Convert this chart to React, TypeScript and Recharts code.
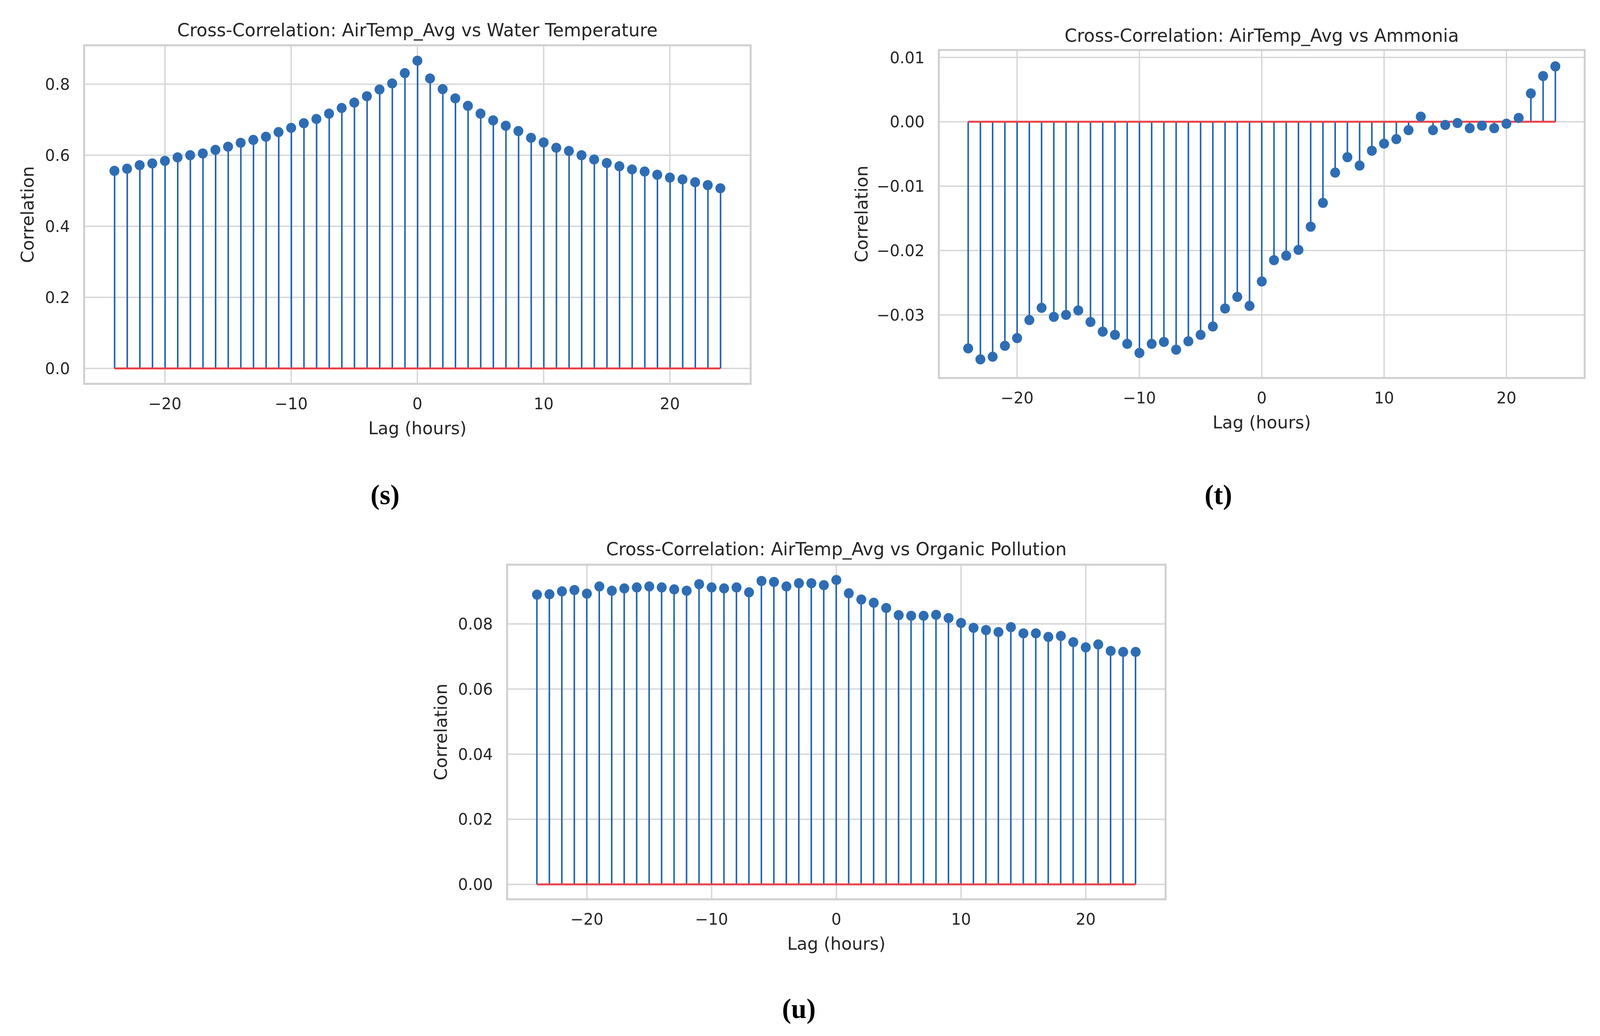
import React from 'react';
import { ComposedChart, Bar, Line, XAxis, YAxis, CartesianGrid, ReferenceLine, ReferenceArea } from 'recharts';

const LAGS = [
    -24, -23, -22, -21, -20, -19, -18, -17, -16, -15, -14, -13, -12, -11, -10, -9, -8, -7, -6, -5, -4, -3, -2, -1,
    0, 1, 2, 3, 4, 5, 6, 7, 8, 9, 10, 11, 12, 13, 14, 15, 16, 17, 18, 19, 20, 21, 22, 23, 24,
];

const WATER_TEMP = [
    0.556, 0.562, 0.572, 0.577, 0.584, 0.594, 0.6, 0.605, 0.615, 0.624, 0.635, 0.643, 0.652, 0.665, 0.677, 0.69,
    0.702, 0.717, 0.733, 0.748, 0.766, 0.785, 0.802, 0.831, 0.866,
    0.816, 0.786, 0.76, 0.739, 0.717, 0.698, 0.683, 0.668, 0.649, 0.636, 0.621, 0.612, 0.6, 0.588, 0.578, 0.569,
    0.56, 0.554, 0.545, 0.537, 0.532, 0.524, 0.516, 0.507,
];

const AMMONIA = [
    -0.0352, -0.0369, -0.0365, -0.0348, -0.0336, -0.0308, -0.0289, -0.0303, -0.03, -0.0293, -0.0311, -0.0326,
    -0.0331, -0.0345, -0.0359, -0.0345, -0.0342, -0.0354, -0.0341, -0.0331, -0.0318, -0.029, -0.0272, -0.0286,
    -0.0248,
    -0.0215, -0.0208, -0.0199, -0.0163, -0.0126, -0.0079, -0.0055, -0.0068, -0.0045, -0.0034, -0.0027, -0.0013,
    0.0008, -0.0013, -0.0005, -0.0002, -0.001, -0.0006, -0.001, -0.0003, 0.0006, 0.0044, 0.0071, 0.0086,
];

const ORGANIC = [
    0.089, 0.0891, 0.09, 0.0904, 0.0893, 0.0915, 0.0902, 0.0909, 0.0912, 0.0915, 0.0912, 0.0906, 0.0902, 0.0922,
    0.0912, 0.0909, 0.0912, 0.0897, 0.0932, 0.0929, 0.0915, 0.0925, 0.0925, 0.0919, 0.0935,
    0.0894, 0.0875, 0.0865, 0.0849, 0.0827, 0.0825, 0.0825, 0.0828, 0.0818, 0.0803, 0.0788, 0.0781, 0.0775,
    0.079, 0.0771, 0.0771, 0.076, 0.0763, 0.0744, 0.0728, 0.0737, 0.0717, 0.0714, 0.0714,
];

const LAG_TICKS = [-20, -10, 0, 10, 20];
const WATER_TICKS = [0, 0.2, 0.4, 0.6, 0.8];
const AMMONIA_TICKS = [-0.03, -0.02, -0.01, 0, 0.01];
const ORGANIC_TICKS = [0, 0.02, 0.04, 0.06, 0.08];

const FONT = '"DejaVu Sans", sans-serif';
const TEXT = '#262626';
const STEM = '#1f62b0';
const MARKER = '#2e6db4';
const BASE = '#e8434a';
const GRID = '#d6d6d6';

const PAGE_W = 4184;
const PAGE_H = 2653;
const PAD = 10;
const XH = 160;

const minus = (s: string) => s.replace('-', '\u2212');

interface PanelProps {
    title: string;
    values: number[];
    yDomain: [number, number];
    yTicks: number[];
    digits: number;
    plotLeft: number;
    plotTop: number;
    plotW: number;
    plotH: number;
    yAxisW: number;
    yLabelX: number;
    titleY: number;
}

const StemPanel: React.FC<PanelProps> = (p) => {
    const rows = LAGS.map((lag, i) => ({ lag, value: p.values[i] }));
    const xDomain: [number, number] = [-26.4, 26.4];
    const left = p.plotLeft - p.yAxisW;
    return (
        <>
            <div
                style={{
                    position: 'absolute',
                    left: p.plotLeft - 100,
                    width: p.plotW + 200,
                    top: p.titleY - 25,
                    height: 50,
                    lineHeight: '50px',
                    textAlign: 'center',
                    fontFamily: FONT,
                    fontSize: 46.5,
                    color: TEXT,
                    whiteSpace: 'nowrap',
                }}
            >
                {p.title}
            </div>
            <div style={{ position: 'absolute', left, top: p.plotTop - PAD }}>
                <ComposedChart
                    width={p.yAxisW + p.plotW + PAD}
                    height={PAD + p.plotH + XH}
                    data={rows}
                    margin={{ top: PAD, right: PAD, left: 0, bottom: 0 }}
                >
                    <CartesianGrid stroke={GRID} strokeWidth={3.5} />
                    <XAxis
                        dataKey="lag"
                        type="number"
                        domain={xDomain}
                        allowDataOverflow
                        ticks={LAG_TICKS}
                        tickFormatter={(v: number) => minus(String(v))}
                        axisLine={false}
                        tickLine={false}
                        tickSize={0}
                        tickMargin={36}
                        height={XH}
                        tick={{ fill: TEXT, fontSize: 41, fontFamily: FONT }}
                        label={{
                            value: 'Lag (hours)',
                            position: 'insideBottom',
                            offset: XH - 129,
                            fill: TEXT,
                            fontSize: 45,
                            fontFamily: FONT,
                        }}
                    />
                    <YAxis
                        type="number"
                        domain={p.yDomain}
                        allowDataOverflow
                        ticks={p.yTicks}
                        tickFormatter={(v: number) => minus(v.toFixed(p.digits))}
                        axisLine={false}
                        tickLine={false}
                        tickSize={0}
                        tickMargin={37}
                        width={p.yAxisW}
                        tick={{ fill: TEXT, fontSize: 41, fontFamily: FONT }}
                        label={{
                            value: 'Correlation',
                            angle: -90,
                            position: 'insideLeft',
                            offset: p.yLabelX - left,
                            fill: TEXT,
                            fontSize: 45,
                            fontFamily: FONT,
                            style: { textAnchor: 'middle' },
                        }}
                    />
                    <ReferenceArea
                        x1={xDomain[0]}
                        x2={xDomain[1]}
                        y1={p.yDomain[0]}
                        y2={p.yDomain[1]}
                        fill="none"
                        stroke="#cfcfcf"
                        strokeWidth={5}
                        ifOverflow="visible"
                    />
                    <Bar dataKey="value" barSize={4} fill={STEM} isAnimationActive={false} />
                    <Line
                        dataKey="value"
                        stroke="none"
                        dot={{ r: 13, fill: MARKER, stroke: 'none' }}
                        activeDot={false}
                        isAnimationActive={false}
                    />
                    <ReferenceLine
                        segment={[
                            { x: LAGS[0], y: 0 },
                            { x: LAGS[LAGS.length - 1], y: 0 },
                        ]}
                        stroke={BASE}
                        strokeWidth={5}
                        ifOverflow="visible"
                    />
                </ComposedChart>
            </div>
        </>
    );
};

const Caption: React.FC<{ text: string; x: number; y: number }> = ({ text, x, y }) => (
    <div
        style={{
            position: 'absolute',
            left: x - 100,
            width: 200,
            top: y - 45,
            height: 90,
            lineHeight: '90px',
            textAlign: 'center',
            fontFamily: '"Liberation Serif", serif',
            fontWeight: 'bold',
            fontSize: 72,
            color: '#000',
        }}
    >
        {text}
    </div>
);

export default function App() {
    // fit the 4184x2653 layout into whatever viewport we actually get
    const sx = Math.min(1, window.innerWidth / PAGE_W);
    const sy = Math.min(1, window.innerHeight / PAGE_H);
    return (
        <div style={{ position: 'fixed', left: 0, top: 0, width: '100vw', height: '100vh', overflow: 'hidden', background: '#fff' }}>
            <div
                style={{
                    position: 'absolute',
                    left: 0,
                    top: 0,
                    width: PAGE_W,
                    height: PAGE_H,
                    transform: `scale(${sx}, ${sy})`,
                    transformOrigin: '0 0',
                }}
            >
                <StemPanel
                    title="Cross-Correlation: AirTemp_Avg vs Water Temperature"
                    values={WATER_TEMP}
                    yDomain={[-0.0433, 0.9093]}
                    yTicks={WATER_TICKS}
                    digits={1}
                    plotLeft={220}
                    plotTop={116}
                    plotW={1743}
                    plotH={867}
                    yAxisW={200}
                    yLabelX={72}
                    titleY={77}
                />
                <StemPanel
                    title="Cross-Correlation: AirTemp_Avg vs Ammonia"
                    values={AMMONIA}
                    yDomain={[-0.0398, 0.01115]}
                    yTicks={AMMONIA_TICKS}
                    digits={2}
                    plotLeft={2455}
                    plotTop={128}
                    plotW={1689}
                    plotH={840}
                    yAxisW={240}
                    yLabelX={2253}
                    titleY={91}
                />
                <StemPanel
                    title="Cross-Correlation: AirTemp_Avg vs Organic Pollution"
                    values={ORGANIC}
                    yDomain={[-0.0046, 0.0982]}
                    yTicks={ORGANIC_TICKS}
                    digits={2}
                    plotLeft={1326}
                    plotTop={1446}
                    plotW={1722}
                    plotH={857}
                    yAxisW={220}
                    yLabelX={1153}
                    titleY={1406}
                />
                <Caption text="(s)" x={1007} y={1267} />
                <Caption text="(t)" x={3186} y={1267} />
                <Caption text="(u)" x={2089} y={2583} />
            </div>
        </div>
    );
}
